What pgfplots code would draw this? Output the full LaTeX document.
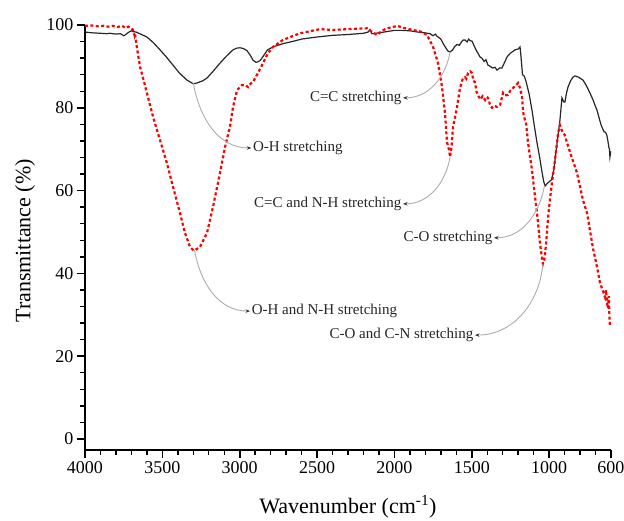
\documentclass[border=0pt]{standalone}
\usepackage{fontspec}
\setmainfont{Liberation Serif}
\usepackage{pgfplots}
\pgfplotsset{compat=1.18}
\usepackage{pgfplotstable}
\usetikzlibrary{arrows.meta}

% FTIR spectra: wavenumber (cm^-1) vs transmittance (%)
\pgfplotstableread{
x y
4000 98.3
3950 98.1
3900 98.0
3860 97.9
3838 98.0
3800 97.8
3770 97.9
3750 97.4
3740 97.6
3720 98.2
3700 98.6
3690 98.4
3670 98.3
3640 97.8
3600 97.1
3560 95.8
3515 94.0
3470 92.1
3431 90.3
3390 88.4
3341 86.7
3300 85.8
3276 86.0
3240 86.5
3211 87.2
3170 88.9
3127 90.8
3085 92.5
3043 94.0
3020 94.4
2998 94.5
2975 94.3
2953 93.8
2930 92.6
2914 91.5
2895 91.0
2882 91.1
2866 91.5
2849 92.4
2820 94.0
2785 94.7
2720 95.5
2650 96.1
2600 96.6
2500 97.1
2400 97.5
2300 97.7
2200 98.0
2170 98.3
2158 98.9
2145 97.9
2120 98.0
2050 98.4
2000 98.7
1950 98.7
1900 98.6
1850 98.3
1800 98.1
1770 97.9
1750 97.4
1735 97.8
1725 97.3
1710 96.9
1700 96.6
1686 95.6
1670 94.6
1654 93.7
1640 93.5
1625 93.9
1610 94.8
1595 95.3
1580 95.1
1565 96.0
1555 96.4
1544 96.4
1530 95.9
1520 96.6
1510 96.2
1498 96.1
1485 95.0
1470 93.8
1460 93.2
1447 92.3
1435 92.0
1420 91.2
1408 91.6
1395 90.3
1380 90.0
1365 89.6
1350 89.8
1337 89.1
1320 89.6
1305 89.6
1290 90.8
1272 92.3
1250 93.2
1235 93.6
1220 94.0
1200 94.2
1188 94.7
1182 92.5
1172 88.0
1160 87.6
1150 86.5
1130 83.5
1111 79.5
1095 75.5
1078 71.5
1060 67.8
1046 64.5
1035 62.2
1026 61.1
1010 61.8
985 62.6
970 64.8
962 67.4
945 72.5
930 77.0
917 82.4
905 81.4
898 81.4
888 83.5
878 85.0
860 86.6
846 87.4
833 87.7
810 87.4
781 86.7
760 85.4
736 83.6
715 81.8
700 80.3
691 79.5
675 77.3
665 76.0
659 75.4
645 74.2
635 74.1
627 73.4
620 72.0
614 70.5
610 70.0
607 68.1
604 68.8
602 69.5
}\blacktable

\pgfplotstableread{
x y
4000 99.8
3960 99.9
3920 99.7
3880 99.8
3850 99.6
3820 99.8
3790 99.5
3760 99.8
3740 99.3
3720 99.6
3700 99.2
3690 98.8
3680 97.5
3677 98.0
3670 96.0
3660 93.5
3644 89.9
3620 86.5
3600 83.6
3560 77.8
3515 72.2
3470 66.6
3431 60.9
3386 54.6
3354 49.8
3321 46.4
3300 45.6
3289 45.6
3257 46.4
3211 49.8
3173 56.0
3127 64.3
3095 70.5
3063 75.4
3043 80.2
3017 84.3
2985 85.5
2960 85.4
2946 85.0
2930 85.8
2914 86.2
2882 88.4
2849 90.8
2817 93.2
2785 94.7
2720 96.4
2610 98.0
2481 99.0
2400 98.8
2300 99.0
2177 99.2
2140 98.2
2112 97.6
2080 98.6
2048 99.2
2010 99.5
1983 99.8
1940 99.3
1880 98.8
1830 98.4
1789 97.6
1750 94.7
1718 90.8
1692 85.0
1673 78.7
1660 71.7
1647 69.8
1640 68.1
1630 71.0
1621 75.4
1595 80.2
1576 84.8
1560 86.8
1544 87.4
1535 87.0
1524 88.4
1510 88.8
1498 88.4
1490 86.5
1479 86.2
1470 84.0
1460 83.1
1445 82.0
1430 82.8
1414 81.9
1405 82.6
1395 82.4
1380 80.5
1369 80.0
1355 80.5
1337 80.2
1317 80.7
1298 83.6
1285 83.0
1266 83.1
1250 84.2
1233 84.8
1215 85.4
1201 86.0
1188 84.8
1175 82.6
1168 79.0
1162 77.8
1149 76.3
1136 71.5
1111 65.0
1091 58.5
1078 54.6
1059 47.3
1046 43.7
1040 42.3
1030 43.5
1020 47.0
1010 52.0
1000 56.0
985 60.9
962 67.4
942 73.9
930 75.8
920 74.8
910 73.9
900 73.5
885 71.7
865 69.3
820 64.3
781 57.7
755 54.6
716 46.0
690 41.5
671 37.7
650 35.5
639 34.3
632 36.0
626 33.0
620 31.6
614 34.5
610 29.5
607 27.5
}\redtable

\begin{document}
\begin{tikzpicture}
\useasboundingbox (-85pt,-70pt) rectangle (539pt,450pt);
\begin{axis}[
    at={(0,0)}, anchor=south west,
    scale only axis,
    width=526pt, height=425pt,
    x dir=reverse,
    xmin=600, xmax=4000,
    ymin=-2.66, ymax=100,
    axis x line*=bottom,
    axis y line*=left,
    axis line style={line width=2pt},
    tick align=outside,
    major tick length=8pt,
    minor tick length=5pt,
    major tick style={line width=1.6pt, black},
    minor tick style={line width=1.4pt, black},
    xtick={4000,3500,3000,2500,2000,1500,1000,600},
    minor xtick={3900,3800,...,700},
    ytick={0,20,40,60,80,100},
    minor ytick={0,4,...,100},
    /pgf/number format/1000 sep={},
    /pgf/number format/assume math mode=true,
    ticklabel style={font=\fontsize{18}{20}\selectfont},
    xlabel={Wavenumber (cm\textsuperscript{-1})},
    ylabel={Transmittance (\%)},
    xlabel style={font=\fontsize{22}{24}\selectfont, at={(axis description cs:0.5,0)}, anchor=base, yshift=-63pt},
    ylabel style={font=\fontsize{22}{24}\selectfont, at={(axis description cs:-0.114,0.492)}, anchor=center},
    clip=false,
]
\addplot[black!85, line width=1.2pt] table[x=x, y=y] {\blacktable};
\addplot[red, line width=2.2pt, dash pattern=on 3pt off 2.4pt] table[x=x, y=y] {\redtable};

\tikzset{ann/.style={gray!65, line width=0.9pt, -{Stealth[length=4.5pt, width=3.5pt, color=black!80]}},
         lab/.style={font=\fontsize{15}{17}\selectfont, text=black!85, inner sep=1.5pt}}
\draw[ann] (axis cs:3300,86) to[out=-80, in=180] (axis cs:2925,70.3);
\node[lab, anchor=west] at (axis cs:2925,70.3) {O-H stretching};
\draw[ann] (axis cs:3292,45.6) to[out=-80, in=180] (axis cs:2933,30.9);
\node[lab, anchor=west] at (axis cs:2933,30.9) {O-H and N-H stretching};
\draw[ann] (axis cs:1640,93.5) to[out=-100, in=0] (axis cs:1944,82.4);
\node[lab, anchor=east] at (axis cs:1944,82.4) {C=C stretching};
\draw[ann] (axis cs:1640,68.1) to[out=-100, in=0] (axis cs:1944,56.8);
\node[lab, anchor=east] at (axis cs:1944,56.8) {C=C and N-H stretching};
\draw[ann] (axis cs:1030,61.2) to[out=-100, in=0] (axis cs:1356,48.6);
\node[lab, anchor=east] at (axis cs:1356,48.6) {C-O stretching};
\draw[ann] (axis cs:1040,42.3) to[out=-95, in=0] (axis cs:1479,25.1);
\node[lab, anchor=east] at (axis cs:1479,25.1) {C-O and C-N stretching};
\end{axis}
\end{tikzpicture}
\end{document}
